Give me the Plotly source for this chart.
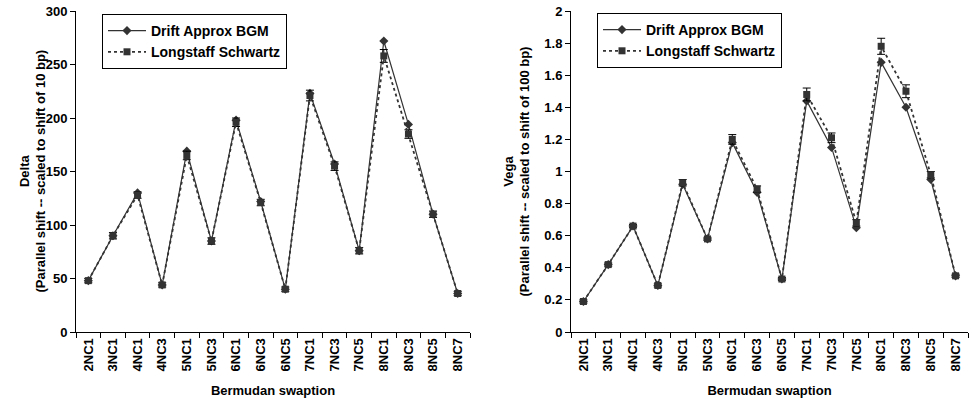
import plotly.graph_objects as go

categories = ["2NC1", "3NC1", "4NC1", "4NC3", "5NC1", "5NC3", "6NC1", "6NC3",
              "6NC5", "7NC1", "7NC3", "7NC5", "8NC1", "8NC3", "8NC5", "8NC7"]

delta_bgm = [48, 90, 130, 44, 169, 85, 198, 122, 40, 223, 157, 76, 272, 194, 110, 36]
delta_ls = [48, 90, 128, 44, 165, 85, 196, 121, 40, 221, 155, 76, 258, 185, 110, 36]
delta_ls_err = [2, 3, 3, 2, 4, 3, 4, 3, 2, 5, 4, 3, 6, 4, 3, 2]

vega_bgm = [0.19, 0.42, 0.66, 0.29, 0.92, 0.58, 1.18, 0.87, 0.33, 1.44, 1.15, 0.65, 1.68, 1.40, 0.95, 0.35]
vega_ls = [0.19, 0.42, 0.66, 0.29, 0.93, 0.58, 1.20, 0.89, 0.33, 1.48, 1.21, 0.68, 1.78, 1.50, 0.98, 0.35]
vega_ls_err = [0.01, 0.01, 0.01, 0.01, 0.02, 0.01, 0.03, 0.02, 0.01, 0.04, 0.03, 0.02, 0.05, 0.04, 0.02, 0.01]

FONT = "Liberation Sans, Arial, sans-serif"
LINE = "#333333"

fig = go.Figure()

def add_pair(bgm, ls, err, xa, ya, leg):
    fig.add_trace(go.Scatter(
        x=categories, y=bgm, name="Drift Approx BGM", mode="lines+markers",
        line=dict(color=LINE, width=1.2),
        marker=dict(symbol="diamond", size=7, color=LINE),
        legendgroup="bgm" + leg,
        xaxis=xa, yaxis=ya, legend=leg))
    fig.add_trace(go.Scatter(
        x=categories, y=ls, name="Longstaff Schwartz", mode="lines+markers",
        line=dict(color=LINE, width=1.8, dash="dot"),
        marker=dict(symbol="square", size=7, color=LINE),
        error_y=dict(type="data", array=err, visible=True, color="black", thickness=1, width=4),
        legendgroup="ls" + leg,
        xaxis=xa, yaxis=ya, legend=leg))

add_pair(delta_bgm, delta_ls, delta_ls_err, "x", "y", "legend")
add_pair(vega_bgm, vega_ls, vega_ls_err, "x2", "y2", "legend2")

ydom = [(403 - 332) / 403, (403 - 11) / 403]
tickfont = dict(family=FONT, size=13, color="black", weight="bold")

xcommon = dict(type="category", range=[-0.5, 15.5], showline=True, linecolor="black", linewidth=1,
               ticks="outside", tickson="boundaries", ticklen=5, tickcolor="black",
               tickangle=-90, tickfont=tickfont, showgrid=False, zeroline=False, automargin=False,
               title=dict(text="Bermudan swaption", font=dict(family=FONT, size=13, color="black", weight="bold"),
                          standoff=15))
ycommon = dict(showline=True, linecolor="black", linewidth=1, ticks="outside", ticklen=5,
               tickcolor="black", tickfont=tickfont, showgrid=False, zeroline=False, domain=ydom,
               automargin=False)

legfont = dict(family=FONT, size=14, color="black", weight="bold")

fig.update_layout(
    width=972, height=403,
    margin=dict(l=0, r=0, t=0, b=0, autoexpand=False),
    paper_bgcolor="white", plot_bgcolor="white",
    font=dict(family=FONT, color="black"),
    xaxis=dict(domain=[76 / 972, 470 / 972], anchor="y", **xcommon),
    xaxis2=dict(domain=[571 / 972, 968 / 972], anchor="y2", **xcommon),
    yaxis=dict(anchor="x", range=[0, 300], dtick=50, **ycommon),
    yaxis2=dict(anchor="x2", range=[0, 2], dtick=0.2, tickformat="~g", **ycommon),
    legend=dict(x=102 / 972, y=1 - 14 / 403, xanchor="left", yanchor="top",
                bordercolor="black", borderwidth=1, bgcolor="white", itemwidth=38,
                font=legfont, tracegroupgap=0, traceorder="grouped"),
    legend2=dict(x=597 / 972, y=1 - 13 / 403, xanchor="left", yanchor="top",
                 bordercolor="black", borderwidth=1, bgcolor="white", itemwidth=38,
                 font=legfont, tracegroupgap=0, traceorder="grouped"),
    showlegend=True,
)

fig.add_annotation(text="Delta<br>(Parallel shift -- scaled to shift of 10 bp)", xref="paper", yref="paper",
                   x=33 / 972, y=(ydom[0] + ydom[1]) / 2, xanchor="center", yanchor="middle",
                   textangle=-90, showarrow=False,
                   font=dict(family=FONT, size=13, color="black", weight="bold"))
fig.add_annotation(text="Vega<br>(Parallel shift -- scaled to shift of 100 bp)", xref="paper", yref="paper",
                   x=517 / 972, y=(ydom[0] + ydom[1]) / 2, xanchor="center", yanchor="middle",
                   textangle=-90, showarrow=False,
                   font=dict(family=FONT, size=13, color="black", weight="bold"))

fig.write_html("out.html")
